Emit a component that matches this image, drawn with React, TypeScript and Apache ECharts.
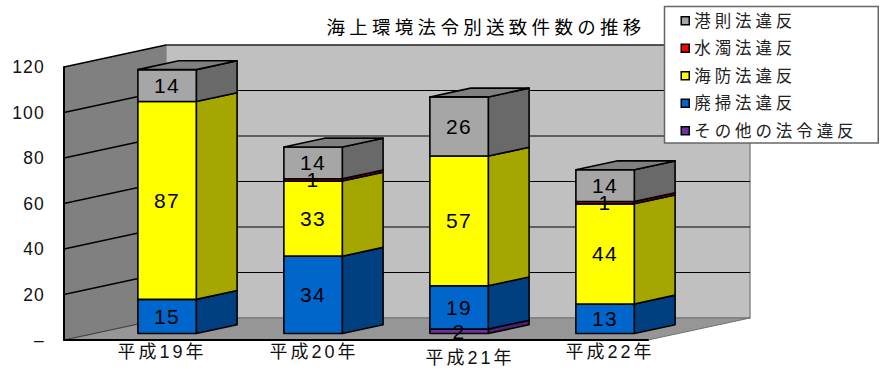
import React, { useEffect, useRef } from "react";
import * as echarts from "echarts";

const categories = ["平成19年", "平成20年", "平成21年", "平成22年"];
const labelPads = [50, 62, 82, 70];
const yTicks = [0, 20, 40, 60, 80, 100, 120];
const other = [0, 0, 2, 0];
const waste = [15, 34, 19, 13];
const marine = [87, 33, 57, 44];
const water = [0, 1, 0, 1];
const port = [14, 14, 26, 14];

const stackOrder = [
  { name: "その他の法令違反", values: other, face: "#7030A0", side: "#4A2070", top: "#5A2888" },
  { name: "廃掃法違反", values: waste, face: "#0066CC", side: "#004080", top: "#00508F" },
  { name: "海防法違反", values: marine, face: "#FFFF00", side: "#A6A600", top: "#C0C000" },
  { name: "水濁法違反", values: water, face: "#FF0000", side: "#A00000", top: "#C00000" },
  { name: "港則法違反", values: port, face: "#A6A6A6", side: "#696969", top: "#808080" },
];
const legendOrder = ["港則法違反", "水濁法違反", "海防法違反", "廃掃法違反", "その他の法令違反"];

const FONT = '"Liberation Sans","Noto Sans CJK JP",sans-serif';
const WALL = { dx: 102, dy: -22 };
const BAR = { front: 0.295, back: 0.695, width: 0.4 };

function wallRender(params: any, api: any) {
  const cs = params.coordSys;
  const x0 = cs.x;
  const x1 = cs.x + cs.width;
  const yAt = (v: number) => api.coord([0, v])[1];
  const yB = yAt(0);
  const yT = yAt(120);
  const { dx, dy } = WALL;
  const children: any[] = [
    { type: "polygon", shape: { points: [[x0 + dx, yT + dy], [x1 + dx, yT + dy], [x1 + dx, yB + dy], [x0 + dx, yB + dy]] }, style: { fill: "#C0C0C0", stroke: "#8A8A8A", lineWidth: 1.5 } },
    { type: "polygon", shape: { points: [[x0, yT], [x0 + dx, yT + dy], [x0 + dx, yB + dy], [x0, yB]] }, style: { fill: "#808080", stroke: "none" } },
    { type: "polygon", shape: { points: [[x0, yB], [x1, yB], [x1 + dx, yB + dy], [x0 + dx, yB + dy]] }, style: { fill: "#969696", stroke: "#707070", lineWidth: 1 } },
  ];
  yTicks.forEach((t) => {
    const y = yAt(t);
    if (t > 0) {
      children.push({ type: "line", shape: { x1: x0, y1: y, x2: x0 + dx, y2: y + dy }, style: { stroke: "#000", lineWidth: 1.5 } });
      children.push({ type: "line", shape: { x1: x0 + dx, y1: y + dy, x2: x1 + dx, y2: y + dy }, style: { stroke: "#000", lineWidth: 1.2 } });
    }
  });
  children.push({ type: "line", shape: { x1: x0, y1: yB, x2: x0 + dx, y2: yB + dy }, style: { stroke: "#404040", lineWidth: 1 } });
  return { type: "group", children };
}

function barRender(face: string, side: string, top: string, isTop: boolean) {
  return (_params: any, api: any) => {
    const cat = api.value(0);
    const val = api.value(1);
    const base = api.value(2);
    if (!val) return { type: "group", children: [] };
    const [cx, yLow] = api.coord([cat, base]);
    const yHigh = api.coord([cat, base + val])[1];
    const w = api.size([1, 0])[0] * BAR.width;
    const fx = BAR.front * WALL.dx;
    const fy = BAR.front * WALL.dy;
    const bx = BAR.back * WALL.dx;
    const by = BAR.back * WALL.dy;
    const l = cx - w / 2 + fx;
    const r = cx + w / 2 + fx;
    const lo = yLow + fy;
    const hi = yHigh + fy;
    const rb = cx + w / 2 + bx;
    const lob = yLow + by;
    const hib = yHigh + by;
    const edge = { stroke: "#000", lineWidth: 1.6, lineJoin: "round" };
    const children: any[] = [
      { type: "polygon", shape: { points: [[r, lo], [rb, lob], [rb, hib], [r, hi]] }, style: { fill: side, ...edge } },
      { type: "polygon", shape: { points: [[l, lo], [r, lo], [r, hi], [l, hi]] }, style: { fill: face, ...edge } },
    ];
    if (isTop) {
      children.push({ type: "polygon", shape: { points: [[l, hi], [r, hi], [rb, hib], [cx - w / 2 + bx, hib]] }, style: { fill: top, ...edge } });
    }
    children.push({
      type: "text",
      z2: 100,
      style: { text: String(val), x: (l + r) / 2, y: (lo + hi) / 2, align: "center", verticalAlign: "middle", fontSize: 21, fontFamily: FONT, fill: "#000" },
    });
    return { type: "group", children };
  };
}

let acc = [0, 0, 0, 0];
const barSeries = stackOrder.map((s, si) => {
  const data = s.values.map((v, i) => [i, v, acc[i]]);
  acc = acc.map((a, i) => a + s.values[i]);
  return {
    type: "custom",
    name: s.name,
    silent: true,
    clip: false,
    itemStyle: { color: s.face },
    encode: { x: 0, y: 1 },
    data,
    renderItem: barRender(s.face, s.side, s.top, si === stackOrder.length - 1),
  };
});

const spacingBySize: Record<string, string> = { "21px": "1.5px", "17.5px": "1.2px", "18px": "3px", "16.5px": "3.9px", "18.5px": "4.3px" };

export default function App() {
  const ref = useRef<HTMLDivElement>(null);
  useEffect(() => {
    document.body.style.margin = "0";
    const chart = echarts.init(ref.current!, undefined, { renderer: "svg", width: 885, height: 384 });
    chart.setOption({
      animation: false,
      backgroundColor: "#fff",
      title: {
        text: "海上環境法令別送致件数の推移",
        left: 481,
        top: 13,
        textAlign: "center",
        textStyle: { fontSize: 18.5, fontWeight: "normal", fontFamily: FONT, color: "#000" },
      },
      legend: {
        data: legendOrder,
        orient: "vertical",
        left: 664.5,
        top: 6.5,
        padding: [6, 52, 4, 16],
        itemWidth: 8,
        itemHeight: 8,
        itemGap: 11,
        icon: "rect",
        selectedMode: false,
        backgroundColor: "#fff",
        borderColor: "#666",
        borderWidth: 1.5,
        itemStyle: { borderColor: "#000", borderWidth: 1.5 },
        textStyle: { fontSize: 16.5, fontFamily: FONT, color: "#222" },
        z: 10,
      },
      grid: { left: 64, right: 237, top: 67, bottom: 44 },
      xAxis: {
        type: "category",
        data: categories,
        z: 5,
        axisLine: { show: true, lineStyle: { color: "#000", width: 2 } },
        axisTick: { show: false },
        axisLabel: {
          margin: 3,
          formatter: (_v: string, i: number) => `{c${i}|${categories[i]}}`,
          rich: Object.fromEntries(
            labelPads.map((p, i) => [
              `c${i}`,
              { padding: [i === 2 ? 6 : 0, 0, 0, p], fontSize: 18, fontFamily: FONT, color: "#111" },
            ])
          ),
        },
      },
      yAxis: {
        type: "value",
        min: 0,
        max: 120,
        interval: 20,
        z: 5,
        axisLine: { show: true, lineStyle: { color: "#000", width: 2 } },
        axisTick: { show: false },
        splitLine: { show: false },
        axisLabel: {
          margin: 19,
          fontSize: 17.5,
          fontFamily: FONT,
          color: "#111",
          formatter: (v: number) => (v === 0 ? "–" : String(v)),
        },
      },
      series: [
        { type: "custom", silent: true, clip: false, data: [[0, 0]], encode: { x: 0, y: 1 }, renderItem: wallRender, z: 1 },
        ...barSeries.map((s) => ({ ...s, z: 2 })),
      ],
    });
    ref.current!.querySelectorAll("text").forEach((t) => {
      const fs = getComputedStyle(t).fontSize;
      if (spacingBySize[fs]) (t as SVGTextElement).style.letterSpacing = spacingBySize[fs];
    });
    return () => chart.dispose();
  }, []);
  return <div ref={ref} style={{ width: 885, height: 384 }} />;
}
